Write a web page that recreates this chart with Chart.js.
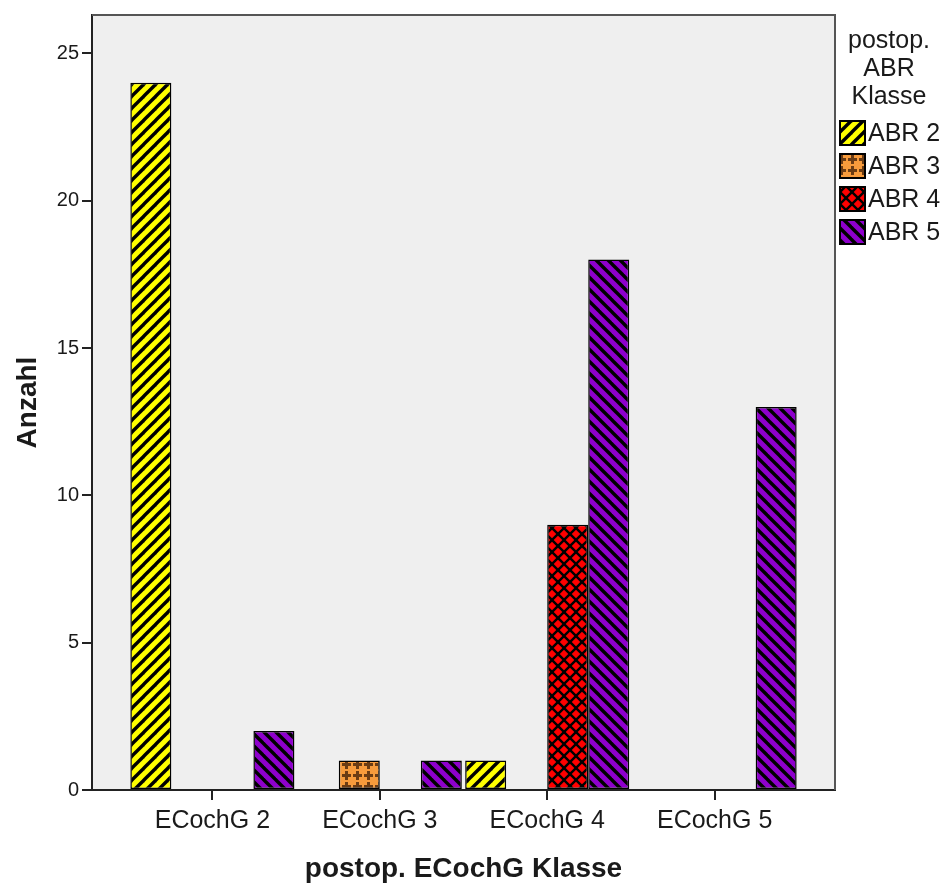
<!DOCTYPE html>
<html>
<head>
<meta charset="utf-8">
<script src="https://cdn.jsdelivr.net/npm/chart.js@4"></script>
<style>
  body { margin: 0; background: #fff; }
</style>
</head>
<body>
<canvas id="myChart" width="948" height="886"></canvas>
<script>
const categories = ['ECochG 2', 'ECochG 3', 'ECochG 4', 'ECochG 5'];
const seriesLabels = ['ABR 2', 'ABR 3', 'ABR 4', 'ABR 5'];
const abr2 = [24, 0, 1, 0];
const abr3 = [0, 1, 0, 0];
const abr4 = [0, 0, 9, 0];
const abr5 = [2, 1, 18, 13];
const yTicks = [0, 5, 10, 15, 20, 25];
const legendTitle = ['postop.', 'ABR', 'Klasse'];

// kleine Kacheln fuer die Schraffuren
function makePattern(bg, size, draw) {
    const c = document.createElement('canvas');
    c.width = size; c.height = size;
    const g = c.getContext('2d');
    g.fillStyle = bg;
    g.fillRect(0, 0, size, size);
    draw(g, size);
    return document.createElement('canvas').getContext('2d').createPattern(c, 'repeat');
}

function lines(g, segs, w, color) {
    g.strokeStyle = color;
    g.lineWidth = w;
    segs.forEach(s => {
        g.beginPath();
        g.moveTo(s[0], s[1]);
        g.lineTo(s[2], s[3]);
        g.stroke();
    });
}

const patYellow = makePattern('#ffff00', 12, (g, s) => {
    lines(g, [[0, s, s, 0], [-s / 2, s / 2, s / 2, -s / 2], [s / 2, s * 1.5, s * 1.5, s / 2]], 3.4, '#000');
});
const patOrange = makePattern('#f79b3c', 11, (g, s) => {
    g.fillStyle = '#6b3c14';
    g.fillRect(4, 1, 3, 9);
    g.fillRect(1, 4, 9, 3);
});
const patRed = makePattern('#ff0000', 12, (g, s) => {
    lines(g, [[0, 0, s, s], [0, s, s, 0], [-s / 2, s / 2, s / 2, -s / 2], [s / 2, s * 1.5, s * 1.5, s / 2],
              [-s / 2, s / 2, s / 2, s * 1.5], [s / 2, -s / 2, s * 1.5, s / 2]], 2.4, '#000');
});
const patPurple = makePattern('#8e00cc', 12, (g, s) => {
    lines(g, [[0, 0, s, s], [-s / 2, s / 2, s / 2, s * 1.5], [s / 2, -s / 2, s * 1.5, s / 2]], 3.4, '#000');
});

const seriesData = [abr2, abr3, abr4, abr5];
const seriesFill = [patYellow, patOrange, patRed, patPurple];

const datasets = seriesLabels.map((label, i) => ({
    label: label,
    data: seriesData[i].map((v, j) => ({ x: j, y: v === 0 ? null : v })),
    backgroundColor: seriesFill[i],
    borderColor: '#000',
    borderWidth: 1.5,
    borderSkipped: false,
    categoryPercentage: 0.98,
    barPercentage: 1
}));

Chart.defaults.font.family = '"Liberation Sans", Arial, sans-serif';
Chart.defaults.color = '#1a1a1a';

const plotBox = {
    id: 'plotBox',
    beforeDraw(chart) {
        const { ctx, chartArea: a } = chart;
        ctx.save();
        ctx.fillStyle = '#fff';
        ctx.fillRect(0, 0, chart.width, chart.height);
        ctx.fillStyle = '#efefef';
        ctx.fillRect(a.left, a.top, a.right - a.left, a.bottom - a.top);
        ctx.restore();
    },
    afterDraw(chart) {
        const { ctx, chartArea: a } = chart;
        ctx.save();
        ctx.strokeStyle = '#555';
        ctx.lineWidth = 2;
        ctx.beginPath();
        ctx.moveTo(a.left, a.top);
        ctx.lineTo(a.right, a.top);
        ctx.lineTo(a.right, a.bottom);
        ctx.stroke();

        // Legende rechts
        ctx.fillStyle = '#1a1a1a';
        ctx.font = '25px "Liberation Sans", Arial, sans-serif';
        ctx.textAlign = 'center';
        ctx.textBaseline = 'middle';
        legendTitle.forEach((t, i) => ctx.fillText(t, 889, 41 + i * 28));
        ctx.textAlign = 'left';
        seriesLabels.forEach((label, i) => {
            const cy = 133 + i * 33;
            ctx.fillStyle = seriesFill[i];
            ctx.fillRect(840, cy - 12, 25, 24);
            ctx.strokeStyle = '#000';
            ctx.lineWidth = 2;
            ctx.strokeRect(840, cy - 12, 25, 24);
            ctx.fillStyle = '#1a1a1a';
            ctx.fillText(label, 868, cy + 1);
        });
        ctx.restore();
    }
};

const ctx = document.getElementById('myChart').getContext('2d');

new Chart(ctx, {
    type: 'bar',
    data: { datasets: datasets },
    options: {
        responsive: false,
        animation: false,
        layout: { padding: { top: 10, right: 113, left: 0, bottom: 0 } },
        plugins: {
            legend: { display: false },
            tooltip: { enabled: false }
        },
        scales: {
            x: {
                type: 'linear',
                offset: false,
                min: -0.719,
                max: 3.719,
                afterFit: (scale) => { scale.height = 96; },
                afterBuildTicks: (scale) => { scale.ticks = categories.map((c, i) => ({ value: i })); },
                ticks: {
                    callback: (v) => categories[v],
                    font: { size: 25 },
                    padding: 6,
                    maxRotation: 0,
                    autoSkip: false
                },
                grid: { offset: false, drawOnChartArea: false, drawTicks: true, tickLength: 10, color: '#222', lineWidth: 2 },
                border: { color: '#222', width: 2 },
                title: {
                    display: true,
                    text: 'postop. ECochG Klasse',
                    font: { size: 28, weight: 'bold' },
                    padding: { top: 0, bottom: 0 }
                }
            },
            y: {
                min: 0,
                max: 26.3,
                afterFit: (scale) => { scale.width = 92; },
                afterBuildTicks: (scale) => { scale.ticks = yTicks.map(v => ({ value: v })); },
                ticks: { font: { size: 20 }, padding: 3 },
                grid: { drawOnChartArea: false, drawTicks: true, tickLength: 10, color: '#222', lineWidth: 2 },
                border: { color: '#222', width: 2 },
                title: {
                    display: true,
                    text: 'Anzahl',
                    font: { size: 28, weight: 'bold' },
                    padding: { top: 11, bottom: 0 }
                }
            }
        }
    },
    plugins: [plotBox]
});
</script>
</body>
</html>
